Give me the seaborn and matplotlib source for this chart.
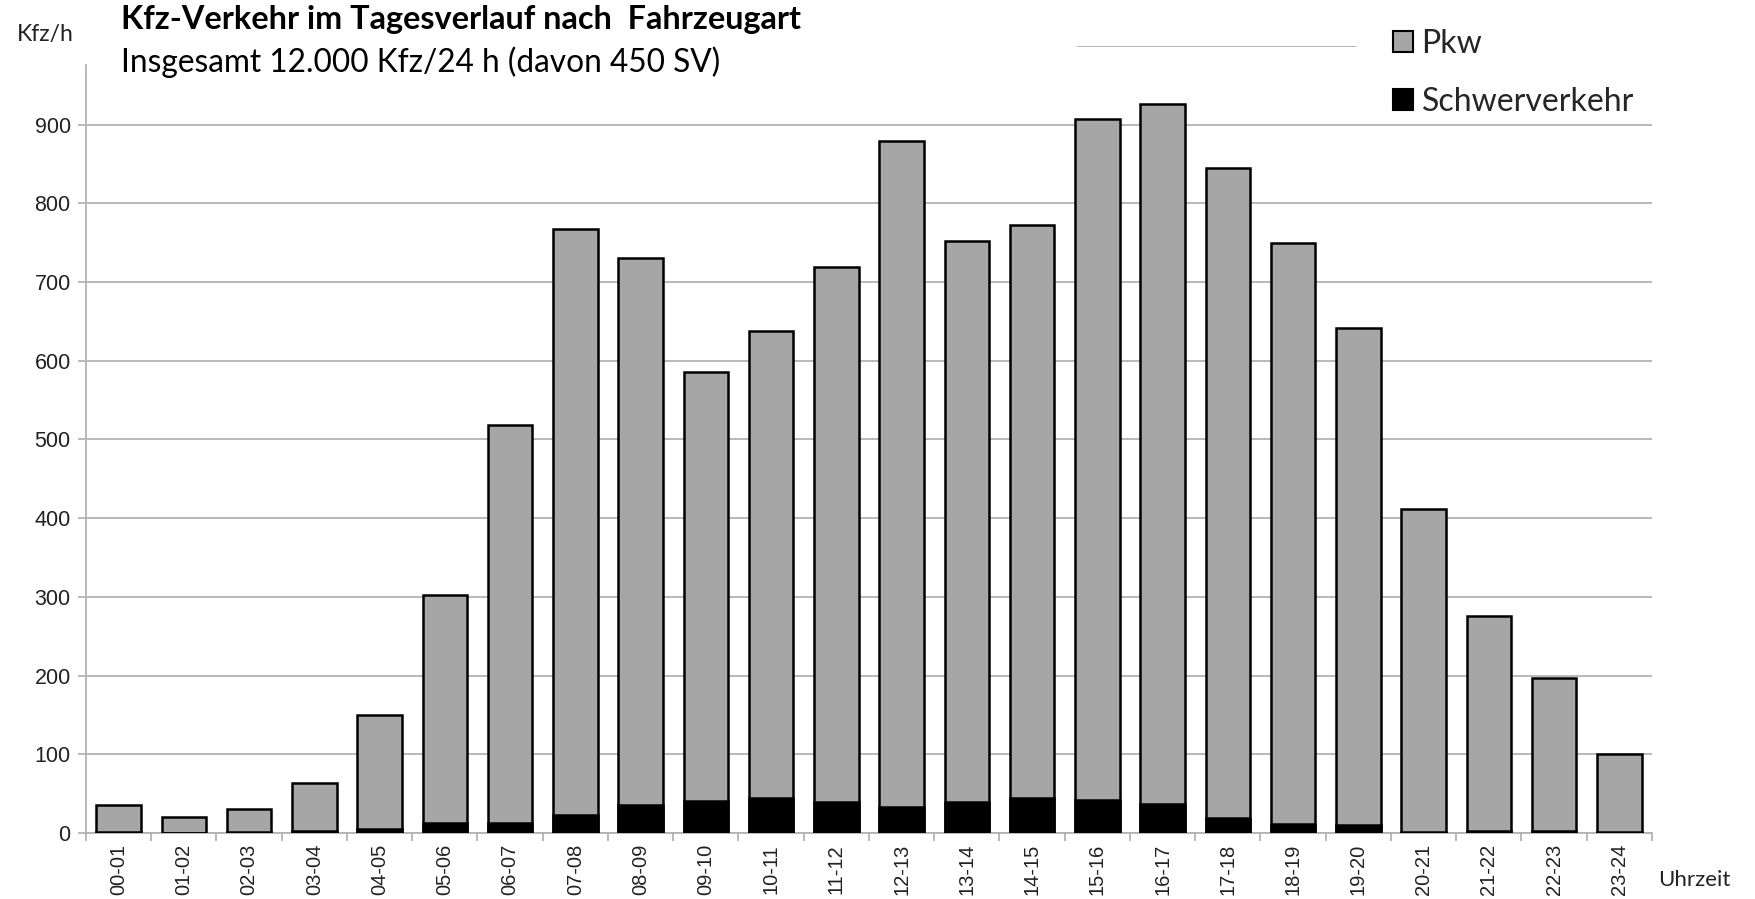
import matplotlib
matplotlib.use("Agg")
import matplotlib.pyplot as plt
import seaborn as sns
import numpy as np
from matplotlib.patches import Patch

# ---- data ----
hours = ["00-01", "01-02", "02-03", "03-04", "04-05", "05-06", "06-07", "07-08",
         "08-09", "09-10", "10-11", "11-12", "12-13", "13-14", "14-15", "15-16",
         "16-17", "17-18", "18-19", "19-20", "20-21", "21-22", "22-23", "23-24"]
schwerverkehr = [1, 0, 1, 2, 5, 13, 13, 23, 35, 41, 44, 39, 33, 39, 44, 42,
                 37, 19, 11, 10, 1, 2, 2, 1]
pkw = [34, 20, 29, 61, 145, 289, 505, 744, 695, 545, 594, 680, 846, 713, 729, 865,
       889, 826, 739, 631, 411, 273, 195, 99]
y_ticks = [0, 100, 200, 300, 400, 500, 600, 700, 800, 900]

total = [p + s for p, s in zip(pkw, schwerverkehr)]

sns.set_theme(style="white")
plt.rcParams['font.family'] = ['Lato', 'DejaVu Sans']

GRAY = "#a6a6a6"
GRID = "#b3b3b3"
ARIAL = ['Liberation Sans', 'DejaVu Sans']

fig = plt.figure(figsize=(17.55, 8.99), dpi=100)
ax = fig.add_axes([0.049, 0.0735, 0.8923, 0.8755])

sns.barplot(x=hours, y=total, order=hours, color=GRAY, saturation=1,
            edgecolor="black", linewidth=1.8, width=0.68, ax=ax, zorder=3)
sns.barplot(x=hours, y=schwerverkehr, order=hours, color="black", saturation=1,
            edgecolor="black", linewidth=1.8, width=0.68, ax=ax, zorder=4)

ax.set_xlim(-0.5, len(hours) - 0.5)
ax.set_ylim(0, 1000)
ax.set_yticks(y_ticks)
ax.set_yticklabels([str(v) for v in y_ticks], fontsize=15.5, family=ARIAL, color="#222222")
ax.yaxis.grid(True, color=GRID, linewidth=1.3, zorder=0)
ax.set_axisbelow(True)
ax.axhline(1000, xmin=0.633, xmax=0.811, color=GRID, linewidth=1.3, zorder=0)

ax.set_xticks(range(len(hours)))
ax.set_xticklabels(hours, rotation=90, va="top", fontsize=14.5, family=ARIAL, color="#222222")
ax.set_xticks(np.arange(-0.5, len(hours), 1.0), minor=True)
ax.tick_params(axis="x", which="major", length=0, pad=8)
ax.tick_params(axis="x", which="minor", length=6, width=1.3, color=GRID, direction="out", bottom=True)
ax.tick_params(axis="y", which="major", length=6, width=1.3, color=GRID, direction="out", left=True, pad=5)
ax.set_xlabel("")
ax.set_ylabel("")

for s in ["top", "right"]:
    ax.spines[s].set_visible(False)
for s in ["left", "bottom"]:
    ax.spines[s].set_color(GRID)
    ax.spines[s].set_linewidth(1.3)
ax.spines["left"].set_bounds(0, 976)

fig.text(0.0096, 0.962, "Kfz/h", fontsize=16.5, ha="left", va="center", color="#222222")
fig.text(0.0692, 0.978, "Kfz-Verkehr im Tagesverlauf nach  Fahrzeugart", fontsize=23.3,
         fontweight="bold", ha="left", va="center", color="black")
fig.text(0.0692, 0.931, "Insgesamt 12.000 Kfz/24 h (davon 450 SV)", fontsize=22.8,
         ha="left", va="center", color="black")
fig.text(0.945, 0.021, "Uhrzeit", fontsize=16, ha="left", va="center", color="#222222")

handles = [Patch(facecolor=GRAY, edgecolor="black", linewidth=1.5, label="Pkw"),
           Patch(facecolor="black", edgecolor="black", linewidth=1.5, label="Schwerverkehr")]
fig.legend(handles=handles, loc="upper left", bbox_to_anchor=(0.794, 0.968), frameon=False,
           fontsize=23, handlelength=0.6, handleheight=0.6, handletextpad=0.28,
           labelspacing=0.88, borderaxespad=0, borderpad=0)

fig.savefig("out.png", dpi=100, facecolor="white")
